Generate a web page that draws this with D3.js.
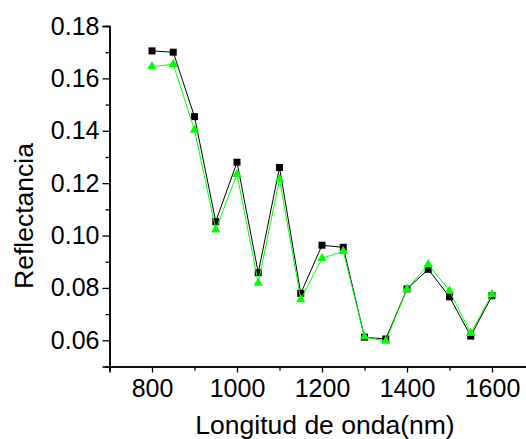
<!DOCTYPE html>
<html lang="en">
<head>
    <meta charset="UTF-8">
    <title>Reflectancia</title>
    <script src="https://cdn.jsdelivr.net/npm/d3@7"></script>
    <style>
        body { margin: 0; background: #fff; }
        svg { display: block; }
        text { font-family: "Liberation Sans", Arial, sans-serif; }
    </style>
</head>
<body>
    <svg id="container" width="526" height="439">
        <g id="xaxis"></g>
        <g id="xminor"></g>
        <g id="yaxis"></g>
        <g id="yminor"></g>
        <g id="body"></g>
    </svg>
<script>
    // wavelengths (nm)
    let wavelength = [800, 850, 900, 950, 1000, 1050, 1100, 1150, 1200, 1250, 1300, 1350, 1400, 1450, 1500, 1550, 1600]
    // black squares
    let serieA = [0.1705, 0.1700, 0.1454, 0.1053, 0.1280, 0.0858, 0.1260, 0.0779, 0.0963, 0.0955, 0.0612, 0.0605, 0.0796, 0.0871, 0.0766, 0.0616, 0.0770]
    // green triangles
    let serieB = [0.1645, 0.1654, 0.1403, 0.1022, 0.1234, 0.0819, 0.1215, 0.0756, 0.0913, 0.0940, 0.0613, 0.0597, 0.0795, 0.0890, 0.0789, 0.0627, 0.0776]
    let xTicks = [800, 1000, 1200, 1400, 1600]
    let xMinor = [700, 900, 1100, 1300, 1500, 1700]
    let yTicks = [0.06, 0.08, 0.10, 0.12, 0.14, 0.16, 0.18]
    let yMinor = [0.05, 0.07, 0.09, 0.11, 0.13, 0.15, 0.17]

    let svg = d3.select("#container")
    let x = d3.scaleLinear().domain([700, 1700]).range([109.5, 534.5])
    let y = d3.scaleLinear().domain([0.05, 0.18]).range([366.5, 26])

    // axes
    let xaxis = d3.axisBottom(x).tickValues(xTicks).tickSize(6).tickPadding(6.5).tickFormat(d3.format("d"))
    d3.select("#xaxis").attr("transform", "translate(0,366.5)").call(xaxis)
    d3.select("#xminor").attr("transform", "translate(0,366.5)")
        .call(d3.axisBottom(x).tickValues(xMinor).tickSize(4).tickFormat(""))

    let yaxis = d3.axisLeft(y).tickValues(yTicks).tickSize(7).tickPadding(3).tickFormat(d3.format(".2f"))
    d3.select("#yaxis").attr("transform", "translate(109.5,0)").call(yaxis)
    d3.select("#yminor").attr("transform", "translate(109.5,0)")
        .call(d3.axisLeft(y).tickValues(yMinor).tickSize(4).tickFormat(""))

    svg.selectAll(".domain").attr("stroke", "#000").attr("stroke-width", 1.5)
    svg.selectAll(".tick line").attr("stroke", "#000").attr("stroke-width", 1.3)
    svg.selectAll(".tick text").attr("font-size", 25).attr("fill", "#000")
        .attr("font-family", "Liberation Sans, Arial, sans-serif")

    // axis titles
    svg.append("text")
        .attr("x", 325)
        .attr("y", 434)
        .attr("text-anchor", "middle")
        .attr("font-size", 26.5)
        .text("Longitud de onda(nm)")
    svg.append("text")
        .attr("transform", "translate(33,216) rotate(-90)")
        .attr("text-anchor", "middle")
        .attr("font-size", 26.5)
        .text("Reflectancia")

    let body = d3.select("#body")
    let dataA = wavelength.map((w, i) => ({ w: w, v: serieA[i] }))
    let dataB = wavelength.map((w, i) => ({ w: w, v: serieB[i] }))
    let line = d3.line().x(d => x(d.w)).y(d => y(d.v))

    // black series
    body.append("path").datum(dataA)
        .attr("d", line).attr("fill", "none").attr("stroke", "#000").attr("stroke-width", 1)
    body.selectAll(".sq").data(dataA).enter().append("rect")
        .attr("class", "sq")
        .attr("x", d => x(d.w) - 3.5).attr("y", d => y(d.v) - 3.5)
        .attr("width", 7).attr("height", 7)
        .attr("fill", "#000")

    // green series
    body.append("path").datum(dataB)
        .attr("d", line).attr("fill", "none").attr("stroke", "#00ff00").attr("stroke-width", 1)
    let tri = d3.symbol().type(d3.symbolTriangle).size(38)
    body.selectAll(".tri").data(dataB).enter().append("path")
        .attr("class", "tri")
        .attr("d", tri)
        .attr("transform", d => "translate(" + x(d.w) + "," + y(d.v) + ")")
        .attr("fill", "#00ff00")
</script>
</body>
</html>
